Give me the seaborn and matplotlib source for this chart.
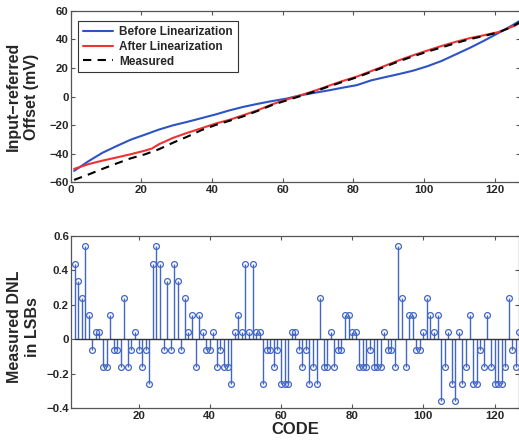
import numpy as np
import pandas as pd
import matplotlib
matplotlib.use('Agg')
import matplotlib.pyplot as plt
import seaborn as sns

# offset curves, read at sampled codes
codes_curve = [1, 5, 9, 13, 17, 21, 23, 25, 29, 33, 37, 41, 45, 49, 53, 57, 61,
               65, 69, 73, 77, 81, 85, 89, 93, 97, 101, 105, 109, 113, 117, 121, 125, 127]
before_lin = [-52.2, -45.5, -39.5, -34.8, -30.3, -26.8, -25.0, -23.2, -20.2, -17.8, -15.2,
              -12.6, -9.7, -7.2, -5.1, -3.2, -1.5, 0.8, 2.6, 4.3, 6.2, 8.0, 11.3, 13.6,
              15.8, 18.2, 21.3, 25.0, 29.6, 34.2, 39.2, 44.5, 50.0, 53.0]
after_lin = [-50.8, -47.5, -45.0, -42.8, -40.5, -38.0, -36.5, -33.5, -29.0, -25.5, -22.3,
             -19.0, -16.3, -13.0, -9.6, -5.5, -2.2, 0.8, 4.0, 7.5, 10.9, 14.0, 17.8, 21.6,
             25.5, 29.0, 32.3, 35.5, 38.4, 41.0, 43.0, 45.2, 49.0, 51.5]
measured = [-58.5, -54.8, -50.8, -47.0, -43.4, -40.6, -38.8, -37.0, -32.4, -28.2, -23.6,
            -20.0, -17.0, -13.8, -10.0, -6.0, -2.8, 0.3, 3.5, 7.0, 10.3, 13.5, 17.2, 21.0,
            24.8, 28.3, 31.5, 34.5, 37.5, 40.3, 42.5, 45.0, 49.0, 52.0]

# measured DNL per code (codes 2..127)
dnl_codes = list(range(2, 128))
dnl = [0.44, 0.34, 0.24, 0.54, 0.14, -0.06, 0.04, 0.04, -0.16, -0.16,
       0.14, -0.06, -0.06, -0.16, 0.24, -0.16, -0.06, 0.04, -0.06, -0.16,
       -0.06, -0.26, 0.44, 0.54, 0.44, -0.06, 0.34, -0.06, 0.44, 0.34,
       -0.06, 0.24, 0.04, 0.14, -0.16, 0.14, 0.04, -0.06, -0.06, 0.04,
       -0.16, -0.06, -0.16, -0.16, -0.26, 0.04, 0.14, 0.04, 0.44, 0.04,
       0.44, 0.04, 0.04, -0.26, -0.06, -0.06, -0.16, -0.06, -0.26, -0.26,
       -0.26, 0.04, 0.04, -0.06, -0.16, -0.06, -0.26, -0.16, -0.26, 0.24,
       -0.16, -0.16, 0.04, -0.16, -0.06, -0.06, 0.14, 0.14, 0.04, 0.04,
       -0.16, -0.16, -0.16, -0.06, -0.16, -0.16, -0.16, 0.04, -0.06, -0.06,
       -0.16, 0.54, 0.24, -0.16, 0.14, 0.14, -0.06, -0.06, 0.04, 0.24,
       0.14, 0.04, 0.14, -0.36, -0.16, 0.04, -0.26, -0.36, 0.04, -0.26,
       -0.16, 0.14, -0.26, -0.26, -0.06, -0.16, 0.14, -0.16, -0.26, -0.26,
       -0.26, -0.16, 0.24, -0.06, -0.16, 0.04]

sns.set_theme(style='ticks')
plt.rcParams['font.family'] = ['Liberation Sans', 'DejaVu Sans']
plt.rcParams['font.weight'] = 'bold'
plt.rcParams['axes.labelweight'] = 'bold'

blue = '#2d54c2'
red = '#f03232'
stem_c = '#4266c6'
spine_c = '#555555'

fig = plt.figure(figsize=(5.19, 4.47), dpi=100)
ax1 = fig.add_axes([0.136, 0.5928, 0.865, 0.3826])
ax2 = fig.add_axes([0.1368, 0.0866, 0.864, 0.3855])

df = pd.DataFrame({'code': codes_curve, 'before': before_lin,
                   'after': after_lin, 'meas': measured})
sns.lineplot(x='code', y='before', data=df, ax=ax1, color=blue, lw=1.5,
             label='Before Linearization')
sns.lineplot(x='code', y='after', data=df, ax=ax1, color=red, lw=1.5,
             label='After Linearization')
sns.lineplot(x='code', y='meas', data=df, ax=ax1, color='black', lw=1.5,
             label='Measured')
ax1.lines[-1].set_dashes((4, 3))
ax1.set_xlim(0, 127)
ax1.set_ylim(-60, 60)
ax1.set_xticks(range(0, 121, 20))
ax1.set_yticks(range(-60, 61, 20))
ax1.set_xlabel('')
ax1.set_ylabel('Input\u2212referred\nOffset (mV)', fontsize=11.5, fontweight='bold',
               linespacing=1.2)
ax1.yaxis.set_label_coords(-0.071, 0.5)
leg = ax1.legend(loc='upper left', bbox_to_anchor=(0.0165, 0.9415), borderaxespad=0,
                 prop={'size': 8.5, 'weight': 'bold'}, handlelength=2.6,
                 labelspacing=0.25, fancybox=False, framealpha=1,
                 borderpad=0.4, handletextpad=0.5)
leg.get_frame().set_edgecolor('#333333')
leg.get_frame().set_linewidth(0.8)

ml, sl, bl = ax2.stem(dnl_codes, dnl, basefmt='-')
plt.setp(ml, color=stem_c, marker='o', markerfacecolor='none', markersize=4.2,
         markeredgewidth=0.9)
plt.setp(sl, color=stem_c, linewidth=1.0)
plt.setp(bl, color='#333333', linewidth=1.0)
ax2.set_xlim(1, 127)
ax2.set_ylim(-0.4, 0.6)
ax2.set_xticks(range(20, 121, 20))
ax2.set_yticks([-0.4, -0.2, 0, 0.2, 0.4, 0.6])
ax2.set_yticklabels(['\u22120.4', '\u22120.2', '0', '0.2', '0.4', '0.6'])
ax2.set_xlabel('CODE', fontsize=12, fontweight='bold', labelpad=1)
ax2.set_ylabel('Measured DNL\nin LSBs', fontsize=11.5, fontweight='bold', linespacing=1.2)
ax2.yaxis.set_label_coords(-0.070, 0.47)

for ax in (ax1, ax2):
    for s in ax.spines.values():
        s.set_color(spine_c)
        s.set_linewidth(0.9)
        s.set_visible(True)
    ax.tick_params(direction='in', length=3, width=0.8, color=spine_c,
                   top=True, right=True, labelsize=8.2, pad=2)
    ax.tick_params(axis='y', pad=1.5)
    for lab in ax.get_xticklabels() + ax.get_yticklabels():
        lab.set_fontweight('bold')

fig.savefig('out.png', dpi=100)
